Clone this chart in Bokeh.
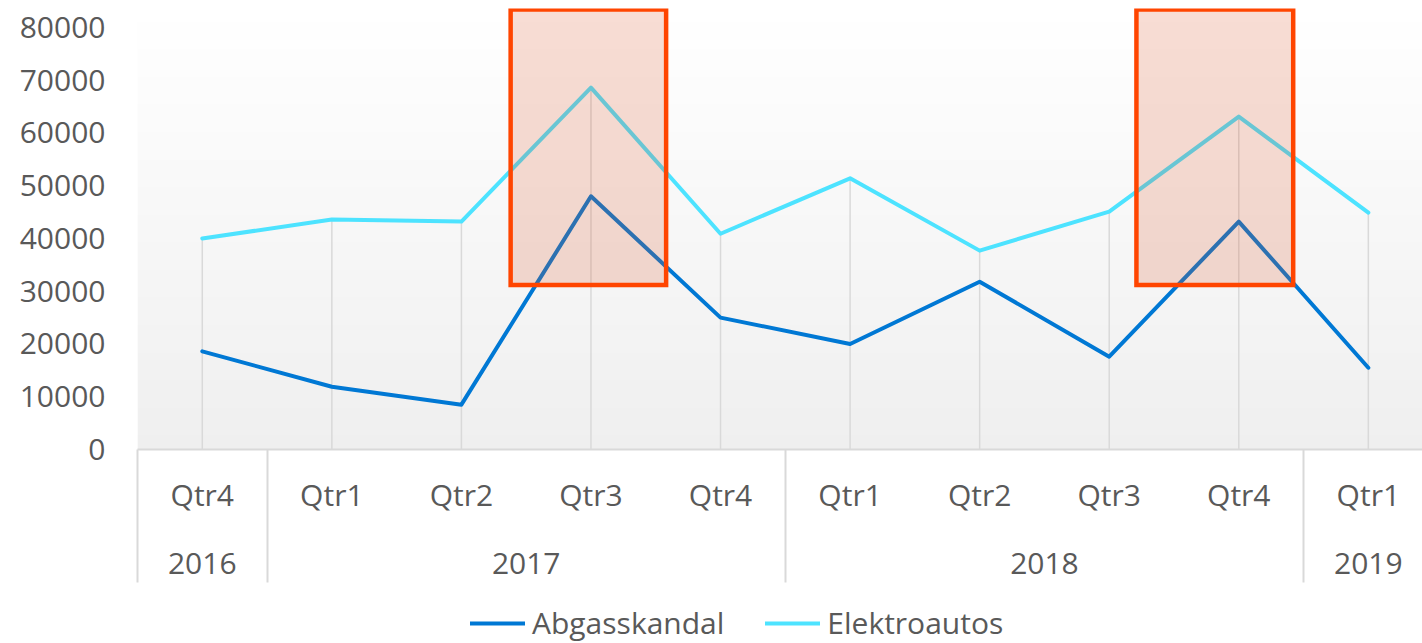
import numpy as np
from bokeh.plotting import figure
from bokeh.layouts import column
from bokeh.models import (Range1d, FixedTicker, LinearAxis, NumeralTickFormatter,
                          Legend, LegendItem)
from bokeh.embed import file_html
from bokeh.resources import INLINE

# ---- data ----
quarters = ["Qtr4", "Qtr1", "Qtr2", "Qtr3", "Qtr4", "Qtr1", "Qtr2", "Qtr3", "Qtr4", "Qtr1"]
years = ["2016", "2017", "2018", "2019"]
quarters_per_year = [1, 4, 4, 1]
abgasskandal = [18600, 11900, 8500, 48000, 25000, 20000, 31800, 17600, 43200, 15500]
elektroautos = [40000, 43600, 43200, 68600, 40900, 51400, 37700, 45100, 63100, 44900]
y_ticks = [0, 10000, 20000, 30000, 40000, 50000, 60000, 70000, 80000]
series_names = ["Abgasskandal", "Elektroautos"]

# highlighted periods (in category units / value units)
hl_left = [2.38, 7.21]
hl_right = [3.58, 8.42]
hl_bottom = [31200, 31200]
hl_top = [83400, 83400]

# ---- derived positions ----
xs = list(range(len(quarters)))
bounds = [-0.5]
for n in quarters_per_year:
    bounds.append(bounds[-1] + n)
year_centers = [(bounds[i] + bounds[i + 1]) / 2 for i in range(len(years))]

FONT = "Open Sans"
TXT = "#595959"
GRID = "#d9d9d9"
BLUE = "#0078D4"
CYAN = "#4DE3FF"

p = figure(width=1422, height=600, output_backend="svg", toolbar_location=None,
           x_range=Range1d(-0.5, 9.418), y_range=Range1d(0, 83600),
           min_border_left=137, min_border_right=0, min_border_top=8, min_border_bottom=151,
           outline_line_color=None, background_fill_color="white", border_fill_color="white")
p.xgrid.visible = False
p.ygrid.visible = False

# background gradient of the plot area
N = 64
img = np.empty((N, 1, 4), dtype=np.uint8)
for r in range(N):
    t = r / (N - 1)
    c = int(round(239 + (255 - 239) * t))
    img[r, 0, :] = [c, c, c, 255]
p.image_rgba(image=[img.view(dtype=np.uint32).reshape((N, 1))], x=-0.5, y=0, dw=10, dh=83600)

# drop lines
p.segment(x0=xs, y0=[0] * len(xs), x1=xs, y1=[max(a, b) for a, b in zip(abgasskandal, elektroautos)],
          line_color=GRID, line_width=1.5)

p.line(xs, abgasskandal, line_color=BLUE, line_width=4, line_join="round", line_cap="round")
p.line(xs, elektroautos, line_color=CYAN, line_width=4, line_join="round", line_cap="round")

# highlight boxes
p.quad(left=hl_left, right=hl_right, bottom=hl_bottom, top=hl_top,
       fill_color="#DC5528", fill_alpha=0.2, line_color="#FF4500", line_width=4.5,
       line_join="miter")

# y axis
ya = p.yaxis[0]
ya.ticker = FixedTicker(ticks=y_ticks)
ya.formatter = NumeralTickFormatter(format="0")
ya.axis_line_color = None
ya.major_tick_line_color = None
ya.minor_tick_line_color = None
ya.major_tick_out = 0
ya.major_tick_in = 0
ya.major_label_standoff = 32
ya.major_label_text_font = FONT
ya.major_label_text_font_size = "30px"
ya.major_label_text_color = TXT

# quarter axis (with group separators as long minor ticks)
SEP = 133
xa = p.xaxis[0]
xa.ticker = FixedTicker(ticks=xs, minor_ticks=bounds)
xa.major_label_overrides = {x: q for x, q in zip(xs, quarters)}
xa.major_tick_out = 0
xa.major_tick_in = 0
xa.major_tick_line_color = None
xa.minor_tick_in = 0
xa.minor_tick_out = SEP
xa.minor_tick_line_color = GRID
xa.minor_tick_line_width = 2
xa.axis_line_color = GRID
xa.axis_line_width = 2
xa.major_label_standoff = 24 - SEP
xa.major_label_text_font = FONT
xa.major_label_text_font_size = "30px"
xa.major_label_text_color = TXT

# year axis
ya2 = LinearAxis(ticker=FixedTicker(ticks=year_centers),
                 major_label_overrides={c: y for c, y in zip(year_centers, years)})
ya2.axis_line_color = None
ya2.major_tick_line_color = None
ya2.minor_tick_line_color = None
ya2.major_tick_out = 0
ya2.major_tick_in = 0
ya2.minor_tick_out = 0
ya2.minor_tick_in = 0
ya2.major_label_standoff = 35
ya2.major_label_text_font = FONT
ya2.major_label_text_font_size = "30px"
ya2.major_label_text_color = TXT
p.add_layout(ya2, "below")

# legend strip (separate figure below the chart; series drawn outside its tiny range)
pl = figure(width=1422, height=43, output_backend="svg", toolbar_location=None,
            x_range=Range1d(0, 1), y_range=Range1d(0, 1),
            x_axis_location=None, y_axis_location=None,
            min_border=0, outline_line_color=None,
            background_fill_color="white", border_fill_color="white")
pl.xgrid.visible = False
pl.ygrid.visible = False
k1 = pl.line(xs, abgasskandal, line_color=BLUE, line_width=4, line_cap="round")
k2 = pl.line(xs, elektroautos, line_color=CYAN, line_width=4, line_cap="round")
legend = Legend(items=[LegendItem(label=series_names[0], renderers=[k1]),
                       LegendItem(label=series_names[1], renderers=[k2])],
                orientation="horizontal", location=(333, 0),
                glyph_width=55, glyph_height=30, label_standoff=7, spacing=41,
                padding=0, margin=0, border_line_color=None, background_fill_alpha=0,
                label_text_font=FONT, label_text_font_size="30px", label_text_color=TXT)
pl.add_layout(legend, "center")

layout = column(p, pl, spacing=0)
open("out.html", "w").write(file_html(layout, INLINE))
